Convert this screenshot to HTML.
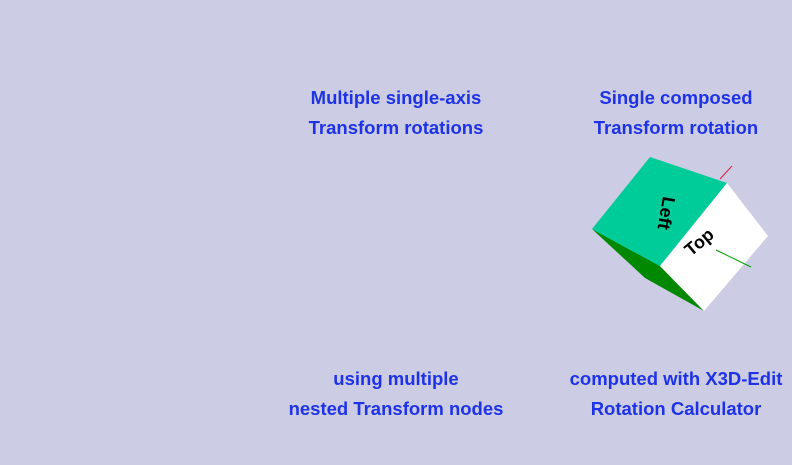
<!DOCTYPE html>
<html><head><style>
body{margin:0;width:792px;height:465px;background:#cccce4;position:relative;overflow:hidden;font-family:"Liberation Sans",sans-serif}
.t{position:absolute;color:#1e32e6;font-weight:bold;font-size:18.5px;text-align:center;width:300px;line-height:30px}
</style></head><body>
<div class="t" style="left:246px;top:83px">Multiple single-axis<br>Transform rotations</div>
<div class="t" style="left:526px;top:83px">Single composed<br>Transform rotation</div>
<div class="t" style="left:246px;top:364px">using multiple<br>nested Transform nodes</div>
<div class="t" style="left:526px;top:364px">computed with X3D-Edit<br>Rotation Calculator</div>
<svg width="792" height="465" style="position:absolute;left:0;top:0">
<line x1="720" y1="179" x2="732" y2="166" stroke="#e0203a" stroke-width="1"/>
<polygon points="592,229 660,266 704,311 645,278" fill="#008800"/>
<polygon points="650,157 727,183 660,266 592,229" fill="#00cc99"/>
<polygon points="727,183 768,236 704,311 660,266" fill="#ffffff"/>
<line x1="716" y1="250" x2="751" y2="267" stroke="#00a000" stroke-width="1"/>
<text x="665" y="213" font-family="Liberation Sans,sans-serif" font-weight="bold" font-size="18" text-anchor="middle" dominant-baseline="middle" transform="rotate(100 665 213)">Left</text>
<text x="700" y="243" font-family="Liberation Sans,sans-serif" font-weight="bold" font-size="18" text-anchor="middle" dominant-baseline="middle" transform="rotate(-40 700 243)">Top</text>
</svg>
</body></html>
